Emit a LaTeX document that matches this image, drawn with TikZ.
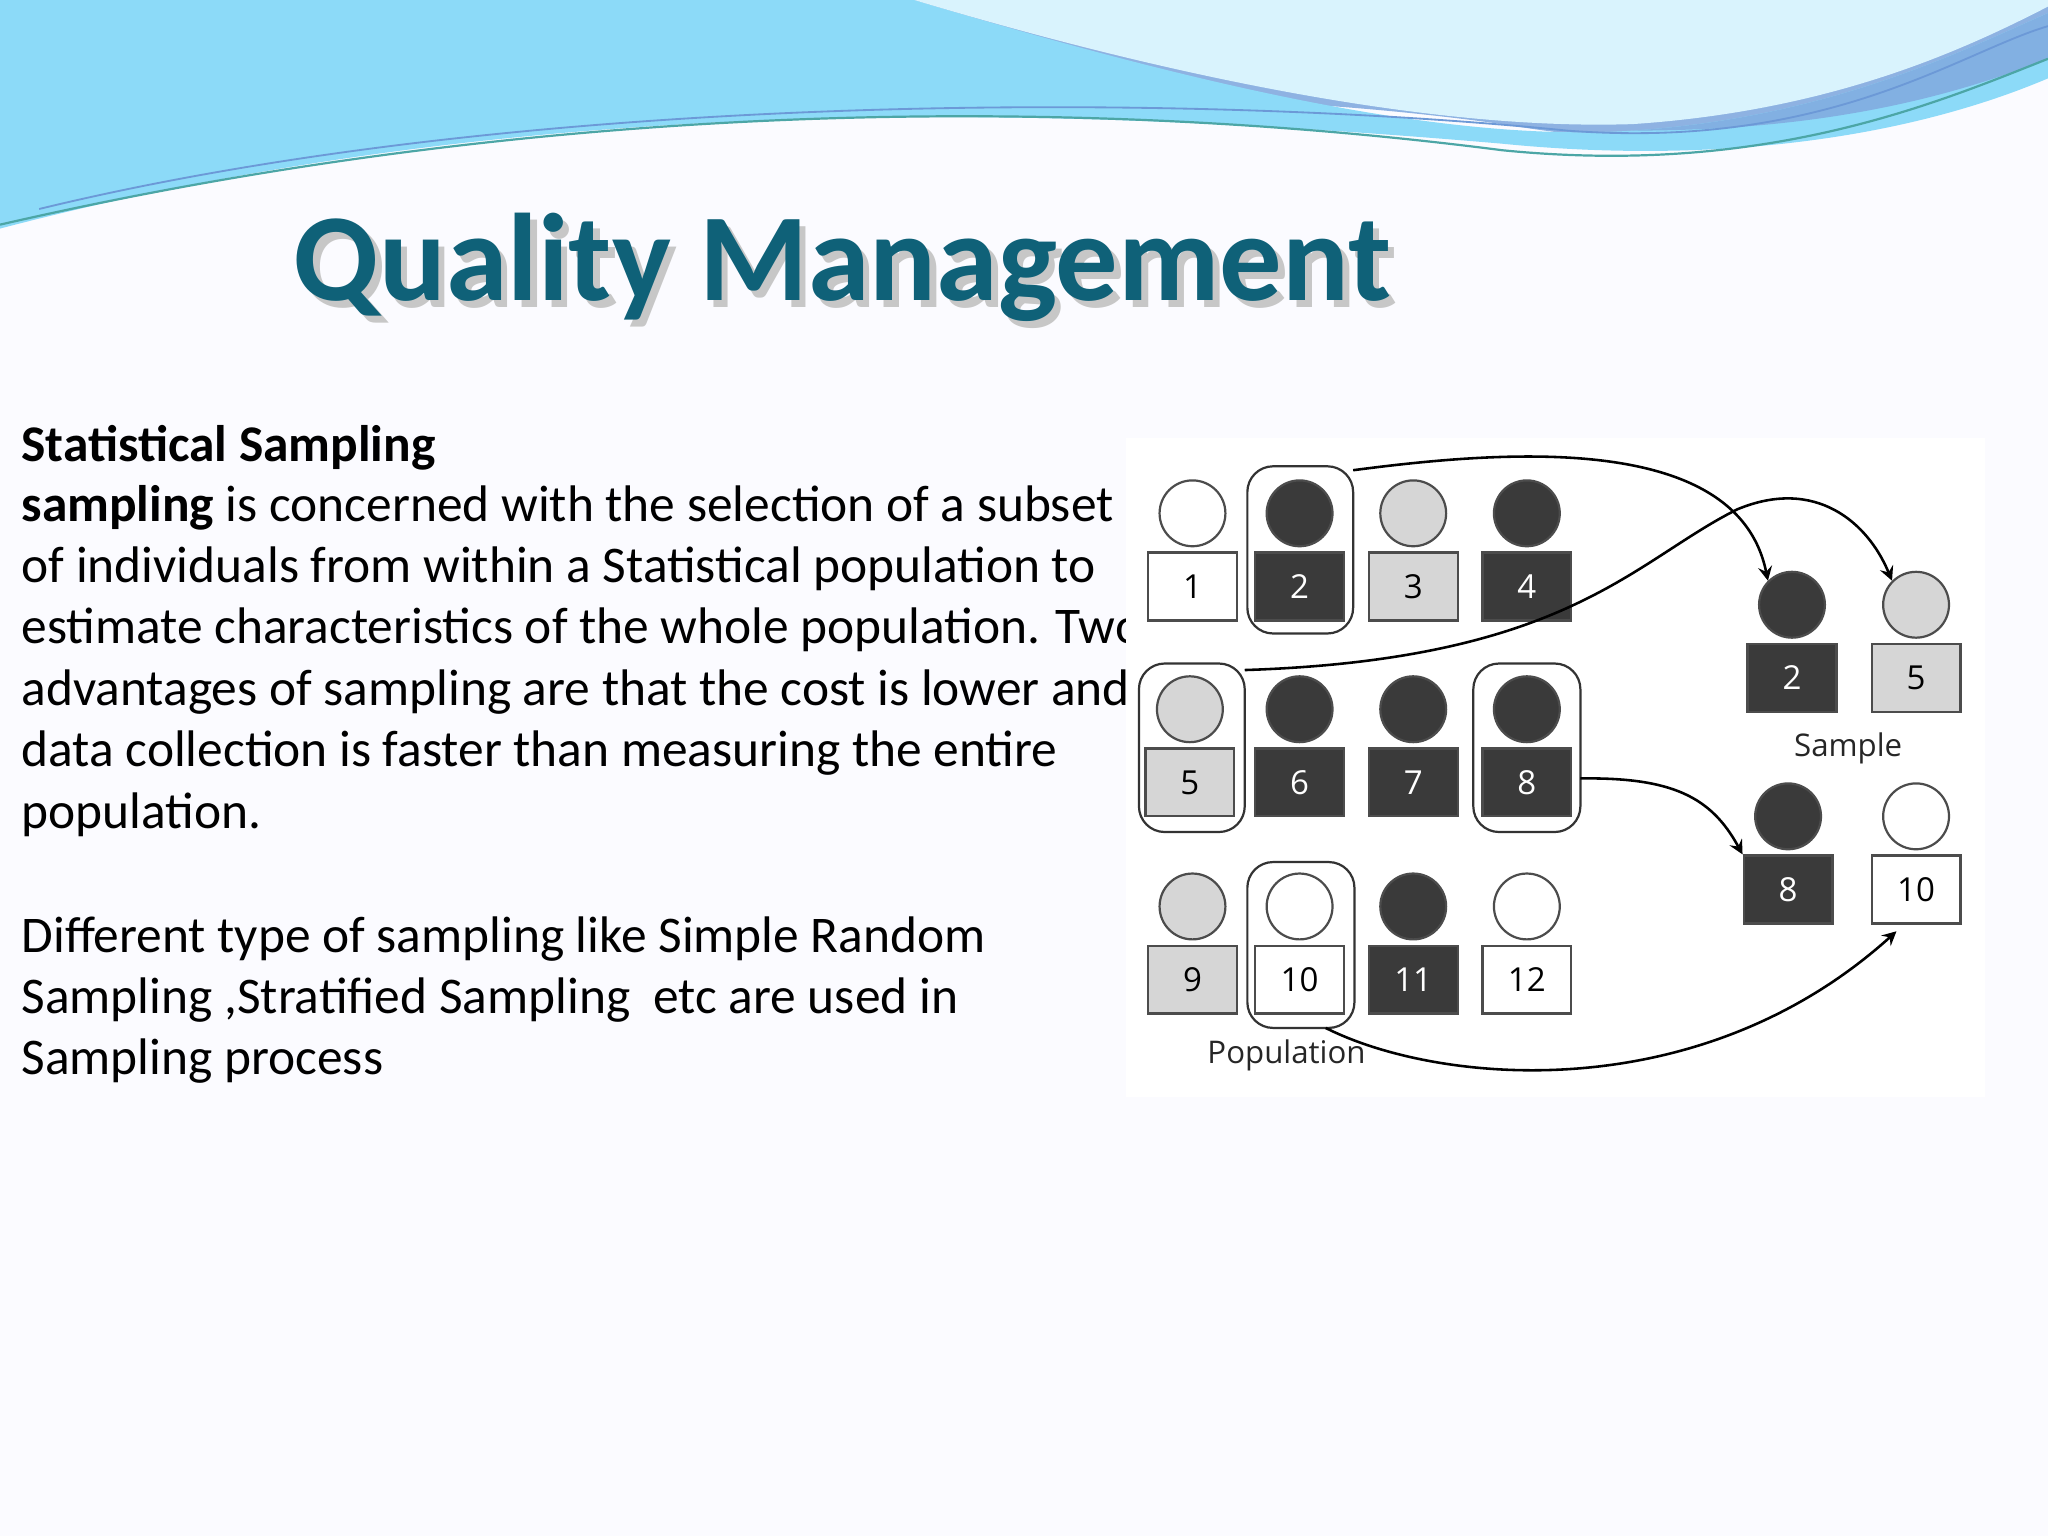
\documentclass[tikz,border=0pt]{standalone}
\usepackage{fontspec}
\setmainfont{Carlito}
\newfontfamily\osans{Open Sans}
\definecolor{dk}{HTML}{3A3A3A}
\definecolor{lg}{HTML}{D6D6D6}
\definecolor{ttl}{HTML}{0F6178}
\tikzset{
 x=0.0125cm,y=-0.0125cm,
 head/.style={circle,draw=black!70,line width=0.6pt,inner sep=0pt,minimum size=0.63cm},
 boxw/.style={draw=black!70,line width=0.6pt,minimum width=0.85cm,minimum height=0.65cm,inner sep=0pt,font=\osans\fontsize{9}{10}\selectfont},
 frame/.style={draw=black!80,rounded corners=7pt,line width=0.6pt},
 arr/.style={->,>=stealth,line width=0.7pt},
 body/.style={anchor=base west,inner sep=0pt,font=\fontsize{14}{17}\selectfont},
 lbl/.style={font=\osans\fontsize{8.5}{10}\selectfont,text=black!85}
}
\newcommand{\person}[6]{% name x ycircle fill num textcolor
 \node[head,fill=#4] (h#1) at (#2,#3) {};
 \node[boxw,fill=#4,text=#6] (b#1) at (#2,#3+56) {#5};
}
\begin{document}
\begin{tikzpicture}
\useasboundingbox (0,0) rectangle (1568,1176);
\fill[white!98.5!blue] (0,0) rectangle (1568,1176);
% top waves
\fill[cyan!55!blue!45] (0,0) -- (1568,0) -- (1568,40) .. controls (1400,110) and (1300,120) .. (1150,95) .. controls (900,60) and (500,60) .. (0,170) -- cycle;
\fill[cyan!45] (0,0) -- (700,0) .. controls (900,60) and (1100,110) .. (1250,100) .. controls (1400,90) and (1500,40) .. (1568,10) -- (1568,60) .. controls (1450,110) and (1300,125) .. (1150,110) .. controls (800,80) and (400,70) .. (0,175) -- cycle;
\fill[cyan!15] (700,0) .. controls (900,60) and (1100,100) .. (1250,95) .. controls (1400,85) and (1500,40) .. (1568,5) -- (1568,0) -- cycle;
\fill[cyan!60!blue!50] (1250,100) .. controls (1400,90) and (1500,40) .. (1568,10) -- (1568,45) .. controls (1480,80) and (1380,100) .. (1250,100) -- cycle;
\draw[teal!70,line width=0.6pt] (0,172) .. controls (400,80) and (800,70) .. (1150,115) .. controls (1350,135) and (1480,80) .. (1568,45);
\draw[cyan!50!blue!60,line width=0.5pt] (30,160) .. controls (400,70) and (900,70) .. (1200,100) .. controls (1400,115) and (1500,40) .. (1568,20);
% title
\node[text=black!22,font=\bfseries] (tshadow) at (650,210) {\resizebox{10.5cm}{!}{Quality Management}};
\node[text=ttl,font=\bfseries] (title) at (645,205) {\resizebox{10.5cm}{!}{Quality Management}};
% body text
\node[body] (l0) at (16,353) {\textbf{Statistical Sampling}};
\node[body] (l1) at (16,399) {\textbf{sampling} is concerned with the selection of a subset};
\node[body] (l2) at (16,446) {of individuals from within a Statistical population to};
\node[body] (l3) at (16,493) {estimate characteristics of the whole population. Two};
\node[body] (l4) at (16,540) {advantages of sampling are that the cost is lower and};
\node[body] (l5) at (16,587) {data collection is faster than measuring the entire};
\node[body] (l6) at (16,634) {population.};
\node[body] (l7) at (16,729) {Different type of sampling like Simple Random};
\node[body] (l8) at (16,776) {Sampling ,Stratified Sampling\ \ etc are used in};
\node[body] (l9) at (16,823) {Sampling process};
% diagram panel
\fill[white] (862,335) rectangle (1520,840);
\person{1}{913}{393}{white}{1}{black}
\person{2}{995}{393}{dk}{2}{white}
\person{3}{1082}{393}{lg}{3}{black}
\person{4}{1169}{393}{dk}{4}{white}
\person{5}{911}{543}{lg}{5}{black}
\person{6}{995}{543}{dk}{6}{white}
\person{7}{1082}{543}{dk}{7}{white}
\person{8}{1169}{543}{dk}{8}{white}
\person{9}{913}{694}{lg}{9}{black}
\person{10}{995}{694}{white}{10}{black}
\person{11}{1082}{694}{dk}{11}{white}
\person{12}{1169}{694}{white}{12}{black}
\draw[frame] (955,357) rectangle (1036,485);
\draw[frame] (872,508) rectangle (953,637);
\draw[frame] (1128,508) rectangle (1210,637);
\draw[frame] (955,660) rectangle (1037,787);
\person{s2}{1372}{463}{dk}{2}{white}
\person{s5}{1467}{463}{lg}{5}{black}
\person{s8}{1369}{625}{dk}{8}{white}
\person{s10}{1467}{625}{white}{10}{black}
\node[lbl] (samp) at (1415,573) {Sample};
\node[lbl] (pop) at (985,808) {Population};
\coordinate (f2) at (1036,360);
\coordinate (f5) at (953,513);
\coordinate (f8) at (1210,596);
\coordinate (f10) at (1015,787);
\draw[arr] (f2) .. controls (1150,345) and (1330,330) .. (hs2.north west);
\draw[arr] (f5) .. controls (1200,505) and (1250,430) .. (1330,390) .. controls (1390,365) and (1430,400) .. (hs5.north west);
\draw[arr] (f8) .. controls (1280,595) and (1310,610) .. (bs8.north west);
\draw[arr] (f10) .. controls (1100,830) and (1300,850) .. (1452,713);
\end{tikzpicture}
\end{document}
